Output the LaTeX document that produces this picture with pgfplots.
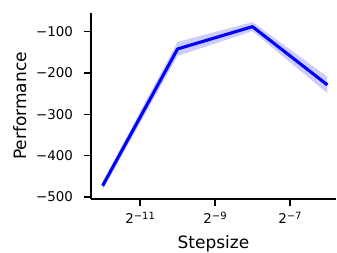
\documentclass[border=0pt]{standalone}
\usepackage{fontspec}
\setmainfont{DejaVu Sans}
\usepackage{pgfplots}
\pgfplotsset{compat=1.18}
\newcommand{\supx}[1]{\raisebox{4pt}{\fontsize{10}{10}\selectfont #1}}
\begin{document}
\begin{tikzpicture}
\begin{axis}[
  scale only axis, width=245pt, height=186pt,
  at={(0,0)}, anchor=south west,
  xmode=log, log basis x=2,
  xmin=0.000197, xmax=0.01832,
  ymin=-505, ymax=-55,
  axis lines*=left,
  axis line style={line width=1.2pt, -},
  tick align=outside, major tick length=7pt,
  tick style={line width=1.2pt, black},
  xminorticks=false, yminorticks=false,
  xtick={0.00048828125,0.001953125,0.0078125},
  xticklabels={2\supx{−11},2\supx{−9},2\supx{−7}},
  ytick={-500,-400,-300,-200,-100},
  yticklabels={−500,−400,−300,−200,−100},
  ticklabel style={font=\fontsize{13.4}{15}\selectfont},
  yticklabel style={xshift=-7.5pt},
  xticklabel style={yshift=-3pt},
  xlabel={Stepsize}, ylabel={Performance},
  label style={font=\fontsize{17}{20}\selectfont, inner sep=0pt},
  xlabel style={at={(axis description cs:0.5,-0.2660)}, anchor=base},
  ylabel style={at={(axis description cs:-0.3184,0.5)}, anchor=north},
  clip=false,
]
% shaded band (mean +/- spread)
\addplot[fill=blue, fill opacity=0.2, draw=none] coordinates {
  (0.000244140625,-463) (0.0009765625,-125) (0.00390625,-77) (0.015625,-209)
  (0.015625,-249) (0.00390625,-99) (0.0009765625,-159) (0.000244140625,-483)
} -- cycle;
\addplot[blue, line width=3.1pt, line join=round] coordinates {
  (0.000244140625,-473) (0.0009765625,-142) (0.00390625,-88) (0.015625,-229)
};
\end{axis}
\pgfresetboundingbox
\useasboundingbox (-91pt,-53pt) rectangle (246pt,199pt);
\end{tikzpicture}
\end{document}
